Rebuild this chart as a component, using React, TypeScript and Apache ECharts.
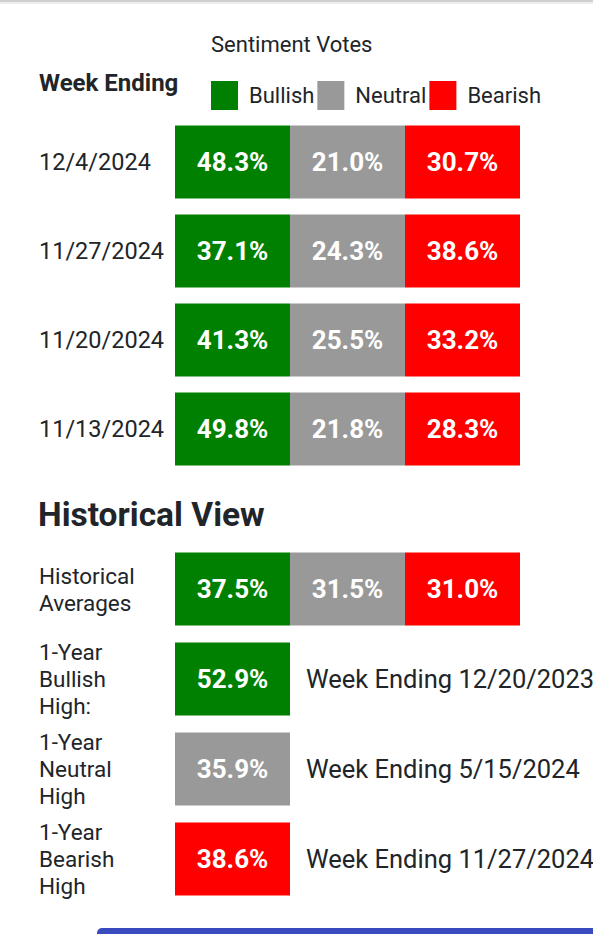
import React, { useEffect, useRef } from "react";
import * as echarts from "echarts";

const sentiments = ["Bullish", "Neutral", "Bearish"];
const colors = ["#008000", "#999999", "#ff0000"];

const weeks = ["12/4/2024", "11/27/2024", "11/20/2024", "11/13/2024"];
const bullish = [48.3, 37.1, 41.3, 49.8];
const neutral = [21.0, 24.3, 25.5, 21.8];
const bearish = [30.7, 38.6, 33.2, 28.3];

const histRows = [
  "Historical\nAverages",
  "1-Year\nBullish\nHigh:",
  "1-Year\nNeutral\nHigh",
  "1-Year\nBearish\nHigh",
];
const histAverages = [37.5, 31.5, 31.0];
const highValues = [52.9, 35.9, 38.6];
const highDates = ["12/20/2023", "5/15/2024", "11/27/2024"];

const FONT = "Roboto, 'Noto Sans', sans-serif";
const TEXT = "#212529";

const weekly = [bullish, neutral, bearish];

function makeRender(color: string, dates: (string | null)[]) {
  return (params: any, api: any) => {
    const c = api.coord([api.value(0), api.value(1)]);
    const s = api.size([1, 1]);
    const h = 73;
    const v = api.value(2);
    const date = dates[params.dataIndex];
    const children: any[] = [
      {
        type: "rect",
        shape: { x: c[0] - s[0] / 2, y: c[1] - h / 2, width: s[0], height: h },
        style: { fill: color },
      },
      {
        type: "text",
        x: c[0],
        y: c[1],
        style: {
          text: Number(v).toFixed(1) + "%",
          fill: "#ffffff",
          font: `bold 26px ${FONT}`,
          align: "center",
          verticalAlign: "middle",
        },
      },
    ];
    if (date) {
      children.push({
        type: "text",
        x: c[0] + s[0] / 2 + 16,
        y: c[1],
        style: {
          text: "Week Ending " + date,
          fill: TEXT,
          font: `25.5px ${FONT}`,
          align: "left",
          verticalAlign: "middle",
        },
      });
    }
    return { type: "group", children };
  };
}

export default function App() {
  const ref = useRef<HTMLDivElement>(null);
  useEffect(() => {
    if (!ref.current) return;
    const chart = echarts.init(ref.current, undefined, { renderer: "svg" });

    const series: any[] = [];
    sentiments.forEach((name, i) => {
      series.push({
        type: "custom",
        name,
        xAxisIndex: 0,
        yAxisIndex: 0,
        itemStyle: { color: colors[i] },
        renderItem: makeRender(colors[i], []),
        data: weeks.map((w, r) => [i, r, weekly[i][r]]),
      });
      series.push({
        type: "custom",
        name,
        xAxisIndex: 1,
        yAxisIndex: 1,
        itemStyle: { color: colors[i] },
        renderItem: makeRender(colors[i], [null, highDates[i]]),
        data: [
          [i, 0, histAverages[i]],
          [0, i + 1, highValues[i]],
        ],
      });
    });

    const yAxisBase = {
      type: "category",
      inverse: true,
      axisLine: { show: false },
      axisTick: { show: false },
      splitLine: { show: false },
      axisLabel: {
        align: "left",
        margin: 136,
        fontSize: 23.5,
        lineHeight: 27,
        color: TEXT,
        fontFamily: FONT,
      },
    };
    const xAxisBase = {
      type: "category",
      data: sentiments,
      show: false,
    };

    chart.setOption({
      animation: false,
      backgroundColor: "#ffffff",
      title: [
        {
          text: "Sentiment Votes",
          left: 211,
          top: 33,
          padding: 0,
          textStyle: { fontFamily: FONT, fontSize: 22, fontWeight: "normal", color: TEXT },
        },
        {
          text: "Week Ending",
          left: 39,
          top: 71,
          padding: 0,
          textStyle: { fontFamily: FONT, fontSize: 24, fontWeight: "bold", color: TEXT },
        },
        {
          text: "Historical View",
          left: 38,
          top: 497,
          padding: 0,
          textStyle: { fontFamily: FONT, fontSize: 33.5, fontWeight: "bold", color: TEXT },
        },
      ],
      legend: {
        data: sentiments,
        left: 211,
        top: 81,
        padding: 0,
        icon: "rect",
        itemWidth: 27,
        itemHeight: 29,
        itemGap: 3,
        selectedMode: false,
        textStyle: {
          fontFamily: FONT,
          fontSize: 22,
          color: TEXT,
          padding: [0, 0, 3, 6],
        },
      },
      grid: [
        { left: 175, width: 345, top: 117.5, height: 356 },
        { left: 175, width: 345, top: 544, height: 360 },
      ],
      xAxis: [
        { ...xAxisBase, gridIndex: 0 },
        { ...xAxisBase, gridIndex: 1 },
      ],
      yAxis: [
        { ...yAxisBase, gridIndex: 0, data: weeks },
        {
          ...yAxisBase,
          gridIndex: 1,
          data: histRows,
          axisLabel: { ...yAxisBase.axisLabel, fontSize: 22.5, lineHeight: 27 },
        },
      ],
      graphic: [
        {
          type: "rect",
          left: 0,
          top: 0,
          shape: { width: 593, height: 2 },
          style: { fill: "#cfcfcf" },
        },
        {
          type: "rect",
          left: 0,
          top: 2,
          shape: { width: 593, height: 2 },
          style: { fill: "#eeeeee" },
        },
        {
          type: "rect",
          left: 97,
          top: 928,
          shape: { width: 520, height: 20, r: 5 },
          style: { fill: "#3a4bbf" },
        },
      ],
      series,
    });
    return () => chart.dispose();
  }, []);
  return (
    <div
      ref={ref}
      style={{ position: "fixed", left: 0, top: 0, width: 593, height: 934, background: "#fff" }}
    />
  );
}
